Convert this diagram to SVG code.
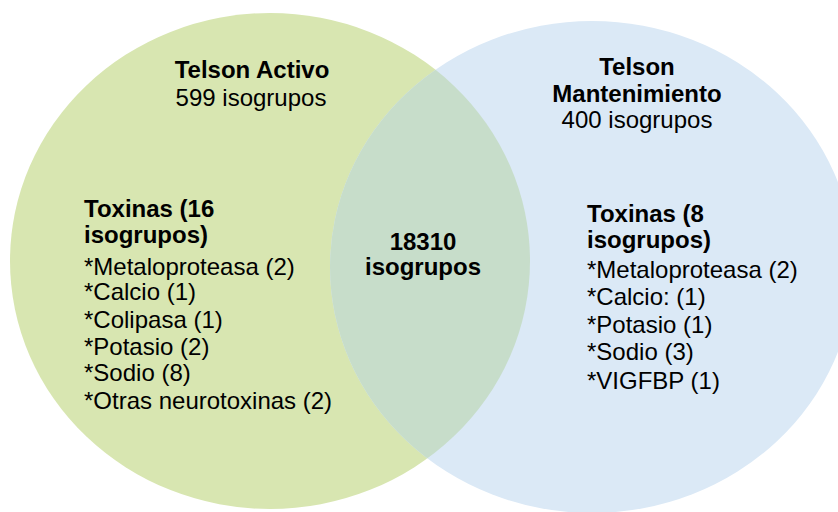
<svg xmlns="http://www.w3.org/2000/svg" width="838" height="512" viewBox="0 0 838 512">
  <style>
    text { font-family: "Liberation Sans", Arial, sans-serif; font-size: 24px; fill: #000; }
    .b { font-weight: bold; }
    .c { text-anchor: middle; }
  </style>
  <defs>
    <clipPath id="clipA">
      <ellipse cx="270" cy="261" rx="260" ry="248"/>
    </clipPath>
  </defs>
  <rect width="838" height="512" fill="#ffffff"/>
  <g id="set-activo">
    <ellipse cx="270" cy="261" rx="260" ry="248" fill="#d8e6b1"/>
  </g>
  <g id="set-mantenimiento">
    <ellipse cx="592" cy="267" rx="262" ry="246" fill="#dbe9f6"/>
  </g>
  <g id="intersection">
    <ellipse cx="592" cy="267" rx="262" ry="246" fill="#c7ddca" clip-path="url(#clipA)"/>
    <text class="b c" x="423" y="250">18310</text>
    <text class="b c" x="423" y="275">isogrupos</text>
  </g>
  <g id="label-activo">
    <text class="b c" x="252" y="78">Telson Activo</text>
    <text class="c" x="251" y="106">599 isogrupos</text>
    <text class="b" x="84" y="217">Toxinas (16</text>
    <text class="b" x="84" y="243">isogrupos)</text>
    <text x="84" y="275">*Metaloproteasa (2)</text>
    <text x="84" y="300">*Calcio (1)</text>
    <text x="84" y="328">*Colipasa (1)</text>
    <text x="84" y="355">*Potasio (2)</text>
    <text x="84" y="381">*Sodio (8)</text>
    <text x="84" y="409">*Otras neurotoxinas (2)</text>
  </g>
  <g id="label-mantenimiento">
    <text class="b c" x="637" y="75">Telson</text>
    <text class="b c" x="637" y="102">Mantenimiento</text>
    <text class="c" x="637" y="128">400 isogrupos</text>
    <text class="b" x="587" y="222">Toxinas (8</text>
    <text class="b" x="587" y="248">isogrupos)</text>
    <text x="587" y="278">*Metaloproteasa (2)</text>
    <text x="587" y="305">*Calcio: (1)</text>
    <text x="587" y="333">*Potasio (1)</text>
    <text x="587" y="360">*Sodio (3)</text>
    <text x="587" y="389">*VIGFBP (1)</text>
  </g>
</svg>
